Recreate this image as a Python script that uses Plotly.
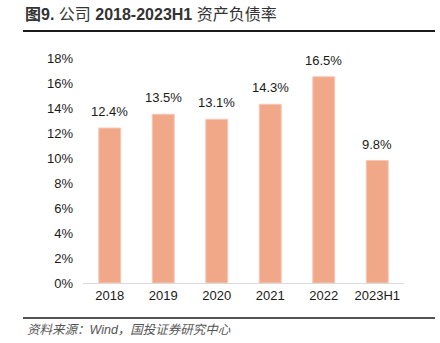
import plotly.graph_objects as go

categories = ["2018", "2019", "2020", "2021", "2022", "2023H1"]
values = [12.4, 13.5, 13.1, 14.3, 16.5, 9.8]
tick_vals = [0, 2, 4, 6, 8, 10, 12, 14, 16, 18]
tick_text = [f"{v}%" for v in tick_vals]

title_html = "<b>图9. </b>公司<b> 2018-2023H1 </b>资产负债率"
source_text = "资料来源：Wind，国投证券研究中心"

fig = go.Figure()
fig.add_trace(go.Bar(
    x=categories, y=values,
    marker=dict(color="#F0A889", line=dict(color="#F6C8B4", width=1)),
    cliponaxis=False,
))

# category axes place by index; annotation x uses each category's index
label_annotations = [
    dict(x=i, y=v, xref="x", yref="y", text=f"{v:.1f}%", showarrow=False,
         yanchor="bottom", yshift=7,
         font=dict(family="Liberation Sans, Arial", size=13, color="#1a1a1a"))
    for i, v in enumerate(values)
]

fig.update_layout(
    width=440, height=343,
    margin=dict(l=83, r=36, t=58, b=60),
    paper_bgcolor="white", plot_bgcolor="white",
    bargap=0.59, showlegend=False,
    font=dict(family="Liberation Sans, Arial", size=13, color="#1a1a1a"),
    xaxis=dict(type="category", showline=True, linecolor="#d9d9d9", linewidth=1,
               ticks="", tickfont=dict(size=13), showgrid=False,
               range=[-0.5, len(categories) - 0.5]),
    yaxis=dict(range=[0, 18], tickvals=tick_vals, ticktext=tick_text,
               showgrid=False, zeroline=False, showline=False,
               tickfont=dict(size=13), ticklabelstandoff=9),
    shapes=[
        dict(type="line", xref="paper", yref="paper",
             x0=-60/321, x1=1 + 31/321, y0=1 + 27/224.6, y1=1 + 27/224.6,
             line=dict(color="#1a1a1a", width=2)),
        dict(type="line", xref="paper", yref="paper",
             x0=-60/321, x1=1 + 31/321, y0=-35/224.6, y1=-35/224.6,
             line=dict(color="#1a1a1a", width=1.5)),
    ],
    annotations=label_annotations + [
        dict(text=title_html, xref="paper", yref="paper",
             x=-60/321, y=1 + 43/224.6, xanchor="left", yanchor="middle",
             showarrow=False,
             font=dict(family="Liberation Sans, Noto Sans CJK SC", size=16, color="#333333")),
        dict(text="<i>" + source_text + "</i>", xref="paper", yref="paper",
             x=-58/321, y=-47/224.6, xanchor="left", yanchor="middle",
             showarrow=False,
             font=dict(family="Liberation Sans, Noto Sans CJK SC", size=12.5, color="#555555")),
    ],
)

fig.write_html("out.html")
